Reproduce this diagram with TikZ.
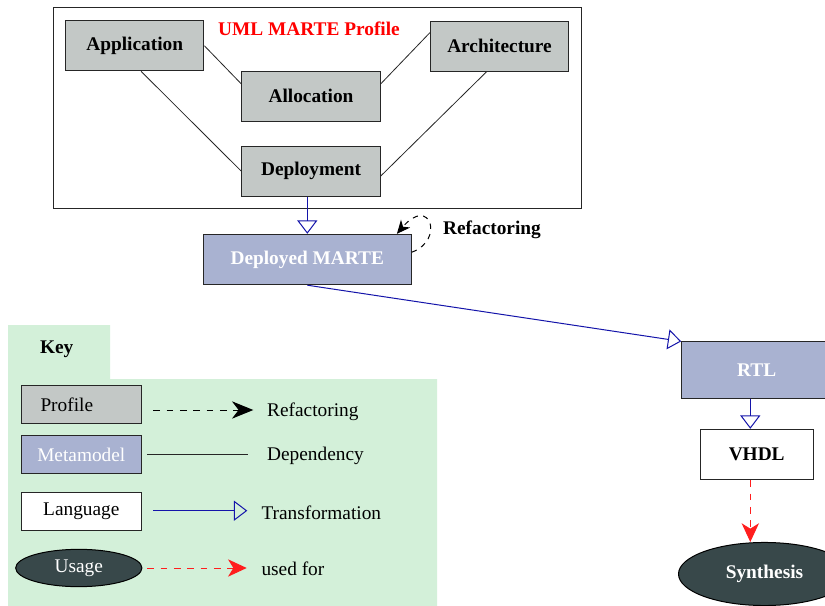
\documentclass[tikz,border=0pt]{standalone}
\usepackage{fontspec}
\setmainfont{Liberation Serif}
\usetikzlibrary{arrows.meta,shapes.geometric}

\definecolor{profilegray}{RGB}{195,200,198}
\definecolor{metablue}{RGB}{169,178,209}
\definecolor{usagedark}{RGB}{56,72,74}
\definecolor{keygreen}{RGB}{211,240,217}
\definecolor{transblue}{RGB}{20,20,170}
\definecolor{usedred}{RGB}{255,30,30}

\tikzset{every picture/.style={line width=0.75pt}}
\tikzset{
  txt/.style={font=\fontsize{14.5}{17}\selectfont, inner sep=0pt},
  profilebox/.style={draw=black!85, fill=profilegray, minimum width=103.8pt, minimum height=37.5pt, inner sep=0pt, font=\fontsize{14.5}{17}\selectfont\bfseries},
  metabox/.style={profilebox, fill=metablue, text=white},
  langbox/.style={profilebox, fill=white},
  keybox/.style={profilebox, minimum width=90pt, minimum height=28.5pt, font=\fontsize{14.5}{17}\selectfont},
  usageshape/.style={ellipse, draw=black, fill=usagedark, text=white, inner sep=0pt, font=\fontsize{14.5}{17}\selectfont},
  dependency/.style={draw=black!85, line width=0.6pt},
  transarrow/.style={draw=transblue, -{Triangle[open, length=10pt, width=15pt]}},
  refarrow/.style={draw=black, dash pattern=on 5pt off 5pt, -{Stealth[length=16pt, width=13pt, inset=5pt]}},
  loopArrow/.style={draw=black, dash pattern=on 4pt off 4pt, -{Stealth[length=10pt, width=9pt, inset=3pt]}},
  usedarrow/.style={draw=usedred, dash pattern=on 5pt off 5pt, -{Stealth[length=14pt, width=13pt, inset=4pt]}}
}

\begin{document}
\begin{tikzpicture}[x=0.75pt,y=0.75pt,yscale=-1,xscale=1]
\clip (0,0) rectangle (825,606);
\fill[white] (0,0) rectangle (825,606);

%Key background
\fill[keygreen] (8,325) -- (110,325) -- (110,379) -- (437,379) -- (437,610) -- (8,610) -- cycle;

%UML MARTE Profile frame
\draw[draw=black!85] (53,8) rectangle (581,209);
\node[txt, font=\fontsize{14.5}{17}\selectfont\bfseries, text={rgb,255:red,255;green,0;blue,0}] (title) at (309,28.5) {UML MARTE Profile};

% Profile nodes
\node[profilebox] (app) at (134.7,45.8) {Application};
\node[profilebox] (arch) at (499.5,46.3) {Architecture};
\node[profilebox] (alloc) at (311,96.2) {Allocation};
\node[profilebox] (deploy) at (311,171.2) {Deployment};

% Dependencies
\draw[dependency] (app.east) -- (alloc.170);
\draw[dependency] (alloc.10) -- (arch.169);
\draw[dependency] (app.284) -- (deploy.west);
\draw[dependency] (arch.243) -- (deploy.356);

% Metamodels and language
\node[metabox, minimum width=156pt, minimum height=37.8pt] (dm) at (307.3,259.5) {Deployed MARTE};
\node[metabox, minimum width=112.5pt, minimum height=42.2pt] (rtl) at (756.7,370) {RTL};
\node[langbox, minimum width=85pt, minimum height=37.8pt] (vhdl) at (756.7,454.5) {VHDL};
\node[usageshape, font=\fontsize{14.5}{17}\selectfont\bfseries, minimum width=129pt, minimum height=47.3pt] (syn) at (764.5,574) {Synthesis};
\coordinate (rv) at (750.3,0);

% Transformations
\draw[transarrow] (dm.north |- deploy.south) -- (dm.north);
\draw[transarrow] (dm.south) -- (rtl.north west);
\draw[transarrow] (rv |- rtl.south) -- (rv |- vhdl.north);
\draw[usedarrow] (rv |- vhdl.south) -- (rv |- syn.north);

% Refactoring loop
\draw[loopArrow] (dm.4) .. controls (445,240) and (430,195) .. (dm.16);
\node[txt, font=\fontsize{14.5}{17}\selectfont\bfseries] (reflabel) at (492,229.5) {Refactoring};

% Key
\node[txt, font=\fontsize{14.5}{17}\selectfont\bfseries] (key) at (56.7,349) {Key};
\node[keybox] (kprofile) at (81.3,404.3) {};
\node[txt, anchor=west] (kprofiletxt) at (40,405) {Profile};
\node[keybox, fill=metablue, text=white] (kmeta) at (81.3,454.5) {Metamodel};
\node[keybox, fill=white] (klang) at (81.3,511) {Language};
\node[usageshape, minimum width=94.7pt, minimum height=28pt] (kusage) at (78.8,568) {Usage};

\coordinate (k1a) at (153.3,410);
\coordinate (k1b) at (253.3,410);
\coordinate (k2a) at (147.3,454.3);
\coordinate (k2b) at (247.7,454.3);
\coordinate (k3a) at (153.3,510.7);
\coordinate (k3b) at (247.3,510.7);
\coordinate (k4a) at (147.3,568);
\coordinate (k4b) at (246.7,568);
\draw[refarrow] (k1a) -- (k1b);
\draw[dependency] (k2a) -- (k2b);
\draw[transarrow] (k3a) -- (k3b);
\draw[usedarrow] (k4a) -- (k4b);

% Text Node
\node[txt, anchor=west] (kreftxt) at (266.7,411.5) {Refactoring};
\node[txt, anchor=west] (kdeptxt) at (266.7,456) {Dependency};
\node[txt, anchor=west] (ktranstxt) at (261,512.5) {Transformation};
\node[txt, anchor=west] (kusedtxt) at (261,569) {used for};

\end{tikzpicture}
\end{document}
